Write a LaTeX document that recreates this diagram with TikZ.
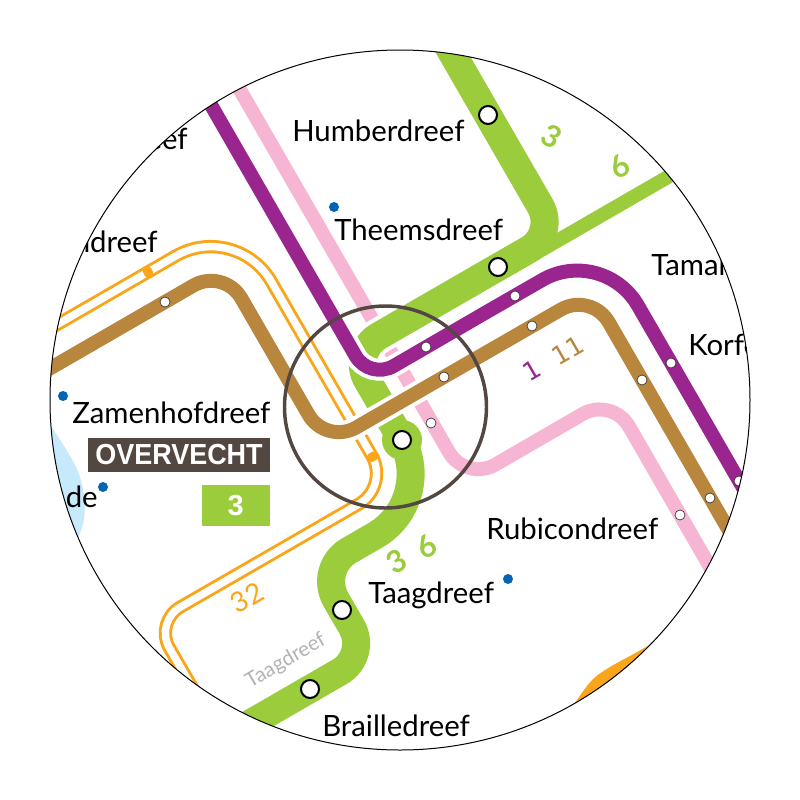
\documentclass[tikz,border=0pt]{standalone}
\usepackage{fontspec}
\usepackage{graphicx}
\setmainfont{Lato}
\newfontfamily\numfont{DejaVu Sans}
\newfontfamily\labelfont{Liberation Sans}
\definecolor{lgreen}{HTML}{9ACC3C}
\definecolor{lpurple}{HTML}{9B258F}
\definecolor{lbrown}{HTML}{B9863E}
\definecolor{lpink}{HTML}{F6B6D3}
\definecolor{lorange}{HTML}{FAA61A}
\definecolor{dotblue}{HTML}{0065B3}
\definecolor{darkbrown}{HTML}{534741}
\definecolor{waterblue}{HTML}{C6E9FB}
\definecolor{greytext}{HTML}{B3B3B3}
\tikzset{
  x=0.75pt, y=-0.75pt,
  route/.style={line width=10.5pt},
  wideroute/.style={line width=21pt},
  casing/.style={line width=16.5pt, white},
  widecasing/.style={line width=27pt, white},
  station/.style={circle, draw=black!80, fill=white, line width=0.5pt, inner sep=0pt, minimum size=7.5pt},
  bigstation/.style={circle, draw=black, fill=white, line width=1.5pt, inner sep=0pt, minimum size=13.5pt},
  stopdot/.style={circle, fill=dotblue, inner sep=0pt, minimum size=7.5pt},
  stname/.style={font=\fontsize{22pt}{24pt}\selectfont, text=black, inner sep=0pt, anchor=base west},
  stnameright/.style={stname, anchor=base east},
  numlabel/.style={font=\numfont\fontsize{19pt}{21pt}\selectfont, inner sep=0pt, rotate=30},
  greenlabel/.style={font=\bfseries\fontsize{23pt}{25pt}\selectfont, text=lgreen, inner sep=0pt, rotate=30},
  stopbar/.style={lorange, line width=6.75pt, line cap=round},
}
\def\purplepath{[rounded corners=21pt] (190,68.6) -- (369.5,380) -- (482,314.7) [rounded corners=52.5pt] (478,317) -- (603,245) -- (780,551.8)}
\def\brownpath{[rounded corners=26.25pt] (20,385.7) -- (223.8,268) -- (326,444.9) -- (591.3,292) -- (780,619)}
\def\pinkpath{[rounded corners=25.5pt] (200,20.7) -- (466,481.6) -- (612,397) -- (760,653.5)}
\def\orangepath{[rounded corners=52.5pt] (20,346) -- (236.3,221) -- (302,334.8) [rounded corners=26.6pt] (300,331.4) -- (389.5,486.4) -- (268,556.5) [rounded corners=22.5pt] (272,554.2) -- (154.4,622) -- (210,718.3)}
\def\greentoppath{[rounded corners=24pt] (433,20) -- (556.3,233.6) -- (351,352) -- (402,440.3)}
\begin{document}
\begin{tikzpicture}
\useasboundingbox (0,0) rectangle (800,800);
\begin{scope}
\clip (400,400) circle (262.5pt);
% water and land
\fill[waterblue] (40,408) -- (52,427) .. controls (66,450) and (78,465) .. (82,485) .. controls (87,505) and (85,525) .. (78,537) -- (30,560) -- cycle;
\fill[lorange] (565,715) -- (575,703) .. controls (585,688) and (592,678) .. (602,672) .. controls (620,660) and (640,652) .. (653,642) -- (680,640) -- (680,720) -- cycle;
% pink line
\draw[route, lpink] \pinkpath;
% orange line 32
\draw[lorange, line width=10pt] \orangepath;
\draw[white, line width=5.6pt] \orangepath;
\draw[stopbar] (147,270.2) -- (149,273.8);
\draw[stopbar] (371,457.7) -- (374.4,455.7);
% green lines 3 and 6
\draw[widecasing] \greentoppath;
\draw[wideroute, lgreen] \greentoppath;
\draw[route, lgreen] (501.5,273) -- (690,164.2);
\fill[lgreen] (402,440) circle (15pt);
\draw[wideroute, lgreen]
  [rounded corners=53.25pt] (400,436.5) -- (436.6,500) -- (360,544.2)
  [rounded corners=27pt] (364,541.9) -- (317.9,568.4) -- (345,615.3)
  [rounded corners=24.75pt] (343,611.8) -- (368.2,655.4) -- (200,752.5);
% purple line
\draw[casing] \purplepath;
\draw[route, lpurple] \purplepath;
% brown line
\draw[casing] \brownpath;
\draw[route, lbrown] \brownpath;
% transfer ring
\draw[darkbrown, line width=2.6pt] (385.5,407) circle (75.75pt);
% stations
\node[station] (s1) at (165,302) {};
\node[station] (s2) at (426,347) {};
\node[station] (s3) at (515,296) {};
\node[station] (s4) at (444,377) {};
\node[station] (s5) at (532,326) {};
\node[station] (s6) at (431,423) {};
\node[station] (s7) at (642,380) {};
\node[station] (s8) at (671,363) {};
\node[station] (s9) at (710,498) {};
\node[station] (s10) at (680,515) {};
\node[station] (s11) at (739,481) {};
\node[bigstation] (b1) at (488,115) {};
\node[bigstation] (b2) at (498,267) {};
\node[bigstation] (b3) at (402,440) {};
\node[bigstation] (b4) at (342,610) {};
\node[bigstation] (b5) at (310,689) {};
% bus stops
\node[stopdot] (d1) at (334,207) {};
\node[stopdot] (d2) at (63,396) {};
\node[stopdot] (d3) at (103,487) {};
\node[stopdot] (d4) at (508,579) {};
% station names
\node[stname] (n1) at (292,141) {Humberdreef};
\node[stname] (n2) at (334,240) {Theemsdreef};
\node[stnameright] (n3) at (158,252) {ndreef};
\node[stnameright] (n4) at (188,149) {eef};
\node[stname] (n5) at (72,423) {Zamenhofdreef};
\node[stnameright] (n6) at (98,507) {de};
\node[stname] (n7) at (368,603) {Taagdreef};
\node[stname] (n8) at (322,736) {Brailledreef};
\node[stname] (n9) at (486,539) {Rubicondreef};
\node[stname] (n10) at (651,275) {Tamar};
\node[stname] (n11) at (688,355) {Korfo};
\node[font=\fontsize{15.5pt}{17pt}\selectfont, text=greytext, rotate=30, inner sep=0pt] (n12) at (286,661) {Taagdreef};
% route numbers
\node[greenlabel, rotate=-60] (r1) at (551.7,136.7) {3};
\node[greenlabel] (r2) at (620,167) {6};
\node[numlabel, text=lpurple] (r3) at (531.7,370) {1};
\node[numlabel, text=lbrown] (r4) at (567.7,350) {11};
\node[greenlabel] (r5) at (396.7,561.7) {3};
\node[greenlabel] (r6) at (426.7,546.7) {6};
\node[font=\fontsize{21pt}{23pt}\selectfont, text=lorange, rotate=30, inner sep=0pt] (r7) at (247,598) {32};
% district label
\node[fill=darkbrown, text=white, font=\labelfont\bfseries\fontsize{21.75pt}{24pt}\selectfont, minimum width=136.5pt, minimum height=25.5pt, inner sep=0pt] (dist) at (179,454.7) {\scalebox{.93}[1]{OVERVECHT}};
\node[fill=lgreen, text=white, font=\labelfont\bfseries\fontsize{21.75pt}{24pt}\selectfont, minimum width=51pt, minimum height=30.75pt, inner sep=0pt] (zone) at (235.7,505.5) {3};
\end{scope}
\draw[black, line width=0.75pt] (400,400) circle (262.5pt);
\end{tikzpicture}
\end{document}
